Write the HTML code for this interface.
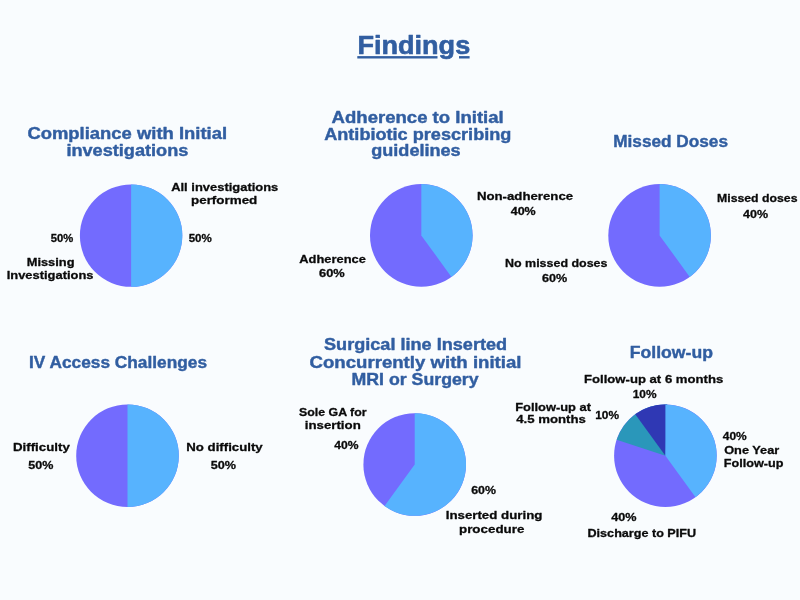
<!DOCTYPE html>
<html lang="en"><head><meta charset="utf-8"><title>Findings</title>
<style>
html,body{margin:0;padding:0;background:#f9fcfe;}
body{width:800px;height:600px;overflow:hidden;}
svg{display:block;}
text{font-family:"Liberation Sans",sans-serif;font-weight:700;}
</style></head><body>
<svg width="800" height="600" viewBox="0 0 800 600">
<rect width="800" height="600" fill="#f9fcfe"/>
<circle cx="131.10" cy="235.60" r="51.20" fill="#736bfe"/>
<path d="M131.10,235.60 L131.10,184.40 A51.20,51.20 0 0 1 131.10,286.80 Z" fill="#57b3fe"/>
<circle cx="421.30" cy="235.40" r="51.30" fill="#736bfe"/>
<path d="M421.30,235.40 L421.30,184.10 A51.30,51.30 0 0 1 451.45,276.90 Z" fill="#57b3fe"/>
<circle cx="659.60" cy="235.40" r="51.30" fill="#736bfe"/>
<path d="M659.60,235.40 L659.60,184.10 A51.30,51.30 0 0 1 689.75,276.90 Z" fill="#57b3fe"/>
<circle cx="127.50" cy="455.70" r="51.30" fill="#736bfe"/>
<path d="M127.50,455.70 L127.50,404.40 A51.30,51.30 0 0 1 127.50,507.00 Z" fill="#57b3fe"/>
<circle cx="414.70" cy="464.50" r="51.30" fill="#736bfe"/>
<path d="M414.70,464.50 L414.70,413.20 A51.30,51.30 0 1 1 384.55,506.00 Z" fill="#57b3fe"/>
<circle cx="665.40" cy="455.70" r="51.30" fill="#736bfe"/>
<path d="M665.40,455.70 L616.61,439.85 A51.30,51.30 0 0 1 667.19,404.43 Z" fill="#2a97ba"/>
<path d="M665.40,455.70 L635.25,414.20 A51.30,51.30 0 0 1 667.19,404.43 Z" fill="#2f38b4"/>
<path d="M665.40,455.70 L665.40,404.40 A51.30,51.30 0 0 1 695.55,497.20 Z" fill="#57b3fe"/>
<text x="357.40" y="54.30" font-size="25.5" fill="#315ea1" stroke="#315ea1" stroke-width="0.6" stroke-linejoin="round" textLength="112.80" lengthAdjust="spacingAndGlyphs">Findings</text>
<text x="27.40" y="139.00" font-size="15.75" fill="#315ea1" stroke="#315ea1" stroke-width="0.4" stroke-linejoin="round" textLength="199.70" lengthAdjust="spacingAndGlyphs">Compliance with Initial</text>
<text x="66.40" y="155.70" font-size="15.75" fill="#315ea1" stroke="#315ea1" stroke-width="0.4" stroke-linejoin="round" textLength="122.00" lengthAdjust="spacingAndGlyphs">investigations</text>
<text x="331.60" y="122.90" font-size="15.75" fill="#315ea1" stroke="#315ea1" stroke-width="0.4" stroke-linejoin="round" textLength="172.10" lengthAdjust="spacingAndGlyphs">Adherence to Initial</text>
<text x="324.20" y="139.50" font-size="15.75" fill="#315ea1" stroke="#315ea1" stroke-width="0.4" stroke-linejoin="round" textLength="187.20" lengthAdjust="spacingAndGlyphs">Antibiotic prescribing</text>
<text x="371.20" y="156.40" font-size="15.75" fill="#315ea1" stroke="#315ea1" stroke-width="0.4" stroke-linejoin="round" textLength="89.50" lengthAdjust="spacingAndGlyphs">guidelines</text>
<text x="613.25" y="147.40" font-size="15.75" fill="#315ea1" stroke="#315ea1" stroke-width="0.4" stroke-linejoin="round" textLength="114.75" lengthAdjust="spacingAndGlyphs">Missed Doses</text>
<text x="29.00" y="367.60" font-size="15.75" fill="#315ea1" stroke="#315ea1" stroke-width="0.4" stroke-linejoin="round" textLength="178.00" lengthAdjust="spacingAndGlyphs">IV Access Challenges</text>
<text x="324.00" y="349.90" font-size="15.75" fill="#315ea1" stroke="#315ea1" stroke-width="0.4" stroke-linejoin="round" textLength="183.10" lengthAdjust="spacingAndGlyphs">Surgical line Inserted</text>
<text x="309.50" y="367.50" font-size="15.75" fill="#315ea1" stroke="#315ea1" stroke-width="0.4" stroke-linejoin="round" textLength="212.00" lengthAdjust="spacingAndGlyphs">Concurrently with initial</text>
<text x="351.50" y="384.60" font-size="15.75" fill="#315ea1" stroke="#315ea1" stroke-width="0.4" stroke-linejoin="round" textLength="127.10" lengthAdjust="spacingAndGlyphs">MRI or Surgery</text>
<text x="629.80" y="357.80" font-size="15.75" fill="#315ea1" stroke="#315ea1" stroke-width="0.4" stroke-linejoin="round" textLength="83.10" lengthAdjust="spacingAndGlyphs">Follow-up</text>
<text x="171.20" y="191.35" font-size="11.6" fill="#0a0a0a" stroke="#0a0a0a" stroke-width="0.3" stroke-linejoin="round" textLength="107.10" lengthAdjust="spacingAndGlyphs">All investigations</text>
<text x="191.00" y="203.60" font-size="11.6" fill="#0a0a0a" stroke="#0a0a0a" stroke-width="0.3" stroke-linejoin="round" textLength="66.30" lengthAdjust="spacingAndGlyphs">performed</text>
<text x="188.70" y="242.10" font-size="10.9" fill="#0a0a0a" stroke="#0a0a0a" stroke-width="0.3" stroke-linejoin="round" textLength="23.10" lengthAdjust="spacingAndGlyphs">50%</text>
<text x="50.80" y="242.00" font-size="10.9" fill="#0a0a0a" stroke="#0a0a0a" stroke-width="0.3" stroke-linejoin="round" textLength="22.50" lengthAdjust="spacingAndGlyphs">50%</text>
<text x="26.70" y="265.60" font-size="11.6" fill="#0a0a0a" stroke="#0a0a0a" stroke-width="0.3" stroke-linejoin="round" textLength="47.80" lengthAdjust="spacingAndGlyphs">Missing</text>
<text x="6.70" y="278.50" font-size="11.6" fill="#0a0a0a" stroke="#0a0a0a" stroke-width="0.3" stroke-linejoin="round" textLength="86.80" lengthAdjust="spacingAndGlyphs">Investigations</text>
<text x="299.30" y="262.80" font-size="11.6" fill="#0a0a0a" stroke="#0a0a0a" stroke-width="0.3" stroke-linejoin="round" textLength="66.50" lengthAdjust="spacingAndGlyphs">Adherence</text>
<text x="319.10" y="276.60" font-size="11.6" fill="#0a0a0a" stroke="#0a0a0a" stroke-width="0.3" stroke-linejoin="round" textLength="25.70" lengthAdjust="spacingAndGlyphs">60%</text>
<text x="476.90" y="199.90" font-size="11.6" fill="#0a0a0a" stroke="#0a0a0a" stroke-width="0.3" stroke-linejoin="round" textLength="96.20" lengthAdjust="spacingAndGlyphs">Non-adherence</text>
<text x="510.70" y="214.90" font-size="11.6" fill="#0a0a0a" stroke="#0a0a0a" stroke-width="0.3" stroke-linejoin="round" textLength="25.00" lengthAdjust="spacingAndGlyphs">40%</text>
<text x="505.00" y="267.00" font-size="11.6" fill="#0a0a0a" stroke="#0a0a0a" stroke-width="0.3" stroke-linejoin="round" textLength="102.50" lengthAdjust="spacingAndGlyphs">No missed doses</text>
<text x="541.90" y="281.70" font-size="11.6" fill="#0a0a0a" stroke="#0a0a0a" stroke-width="0.3" stroke-linejoin="round" textLength="25.20" lengthAdjust="spacingAndGlyphs">60%</text>
<text x="717.00" y="202.00" font-size="11.6" fill="#0a0a0a" stroke="#0a0a0a" stroke-width="0.3" stroke-linejoin="round" textLength="80.50" lengthAdjust="spacingAndGlyphs">Missed doses</text>
<text x="743.00" y="217.50" font-size="11.6" fill="#0a0a0a" stroke="#0a0a0a" stroke-width="0.3" stroke-linejoin="round" textLength="25.00" lengthAdjust="spacingAndGlyphs">40%</text>
<text x="13.00" y="451.00" font-size="11.6" fill="#0a0a0a" stroke="#0a0a0a" stroke-width="0.3" stroke-linejoin="round" textLength="56.80" lengthAdjust="spacingAndGlyphs">Difficulty</text>
<text x="28.20" y="469.00" font-size="11.6" fill="#0a0a0a" stroke="#0a0a0a" stroke-width="0.3" stroke-linejoin="round" textLength="25.10" lengthAdjust="spacingAndGlyphs">50%</text>
<text x="186.30" y="451.00" font-size="11.6" fill="#0a0a0a" stroke="#0a0a0a" stroke-width="0.3" stroke-linejoin="round" textLength="76.40" lengthAdjust="spacingAndGlyphs">No difficulty</text>
<text x="210.75" y="469.00" font-size="11.6" fill="#0a0a0a" stroke="#0a0a0a" stroke-width="0.3" stroke-linejoin="round" textLength="25.25" lengthAdjust="spacingAndGlyphs">50%</text>
<text x="299.00" y="415.60" font-size="11.6" fill="#0a0a0a" stroke="#0a0a0a" stroke-width="0.3" stroke-linejoin="round" textLength="67.50" lengthAdjust="spacingAndGlyphs">Sole GA for</text>
<text x="304.75" y="429.40" font-size="11.6" fill="#0a0a0a" stroke="#0a0a0a" stroke-width="0.3" stroke-linejoin="round" textLength="56.00" lengthAdjust="spacingAndGlyphs">insertion</text>
<text x="334.25" y="449.00" font-size="11.6" fill="#0a0a0a" stroke="#0a0a0a" stroke-width="0.3" stroke-linejoin="round" textLength="24.25" lengthAdjust="spacingAndGlyphs">40%</text>
<text x="471.20" y="494.40" font-size="11.6" fill="#0a0a0a" stroke="#0a0a0a" stroke-width="0.3" stroke-linejoin="round" textLength="24.70" lengthAdjust="spacingAndGlyphs">60%</text>
<text x="445.70" y="519.20" font-size="11.6" fill="#0a0a0a" stroke="#0a0a0a" stroke-width="0.3" stroke-linejoin="round" textLength="96.70" lengthAdjust="spacingAndGlyphs">Inserted during</text>
<text x="459.00" y="532.60" font-size="11.6" fill="#0a0a0a" stroke="#0a0a0a" stroke-width="0.3" stroke-linejoin="round" textLength="65.40" lengthAdjust="spacingAndGlyphs">procedure</text>
<text x="584.00" y="383.00" font-size="11.6" fill="#0a0a0a" stroke="#0a0a0a" stroke-width="0.3" stroke-linejoin="round" textLength="139.20" lengthAdjust="spacingAndGlyphs">Follow-up at 6 months</text>
<text x="632.70" y="397.80" font-size="11.6" fill="#0a0a0a" stroke="#0a0a0a" stroke-width="0.3" stroke-linejoin="round" textLength="23.80" lengthAdjust="spacingAndGlyphs">10%</text>
<text x="515.20" y="411.00" font-size="11.6" fill="#0a0a0a" stroke="#0a0a0a" stroke-width="0.3" stroke-linejoin="round" textLength="75.80" lengthAdjust="spacingAndGlyphs">Follow-up at</text>
<text x="516.20" y="423.40" font-size="11.6" fill="#0a0a0a" stroke="#0a0a0a" stroke-width="0.3" stroke-linejoin="round" textLength="69.60" lengthAdjust="spacingAndGlyphs">4.5 months</text>
<text x="595.20" y="419.40" font-size="11.6" fill="#0a0a0a" stroke="#0a0a0a" stroke-width="0.3" stroke-linejoin="round" textLength="23.80" lengthAdjust="spacingAndGlyphs">10%</text>
<text x="722.75" y="440.25" font-size="11.6" fill="#0a0a0a" stroke="#0a0a0a" stroke-width="0.3" stroke-linejoin="round" textLength="24.00" lengthAdjust="spacingAndGlyphs">40%</text>
<text x="724.20" y="453.75" font-size="11.6" fill="#0a0a0a" stroke="#0a0a0a" stroke-width="0.3" stroke-linejoin="round" textLength="55.05" lengthAdjust="spacingAndGlyphs">One Year</text>
<text x="723.80" y="466.50" font-size="11.6" fill="#0a0a0a" stroke="#0a0a0a" stroke-width="0.3" stroke-linejoin="round" textLength="59.70" lengthAdjust="spacingAndGlyphs">Follow-up</text>
<text x="611.30" y="520.70" font-size="11.6" fill="#0a0a0a" stroke="#0a0a0a" stroke-width="0.3" stroke-linejoin="round" textLength="25.30" lengthAdjust="spacingAndGlyphs">40%</text>
<text x="587.50" y="536.65" font-size="11.6" fill="#0a0a0a" stroke="#0a0a0a" stroke-width="0.3" stroke-linejoin="round" textLength="108.60" lengthAdjust="spacingAndGlyphs">Discharge to PIFU</text>
<rect x="357.3" y="56.1" width="80.2" height="2.4" fill="#315ea1"/>
<rect x="459" y="56.1" width="10.6" height="2.4" fill="#315ea1"/>
</svg></body></html>
